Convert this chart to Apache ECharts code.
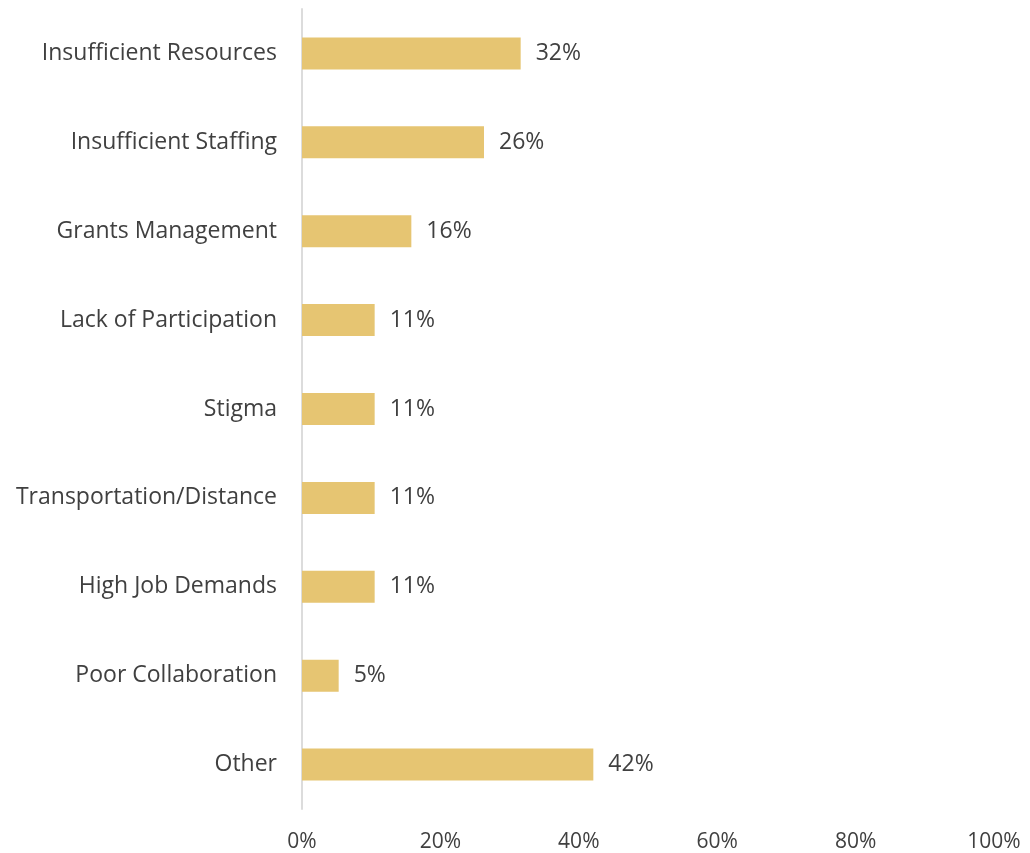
<!DOCTYPE html>
<html>
<head>
<meta charset="utf-8">
<script src="https://cdn.jsdelivr.net/npm/echarts@6/dist/echarts.min.js"></script>
<style>
html,body{margin:0;padding:0;background:#fff;}
#chart{width:1030px;height:853px;}
</style>
</head>
<body>
<div id="chart"></div>
<script>
const categories = ["Insufficient Resources","Insufficient Staffing","Grants Management","Lack of Participation","Stigma","Transportation/Distance","High Job Demands","Poor Collaboration","Other"];
const values = [31.6, 26.3, 15.8, 10.5, 10.5, 10.5, 10.5, 5.3, 42.1];
const xTicks = [0, 20, 40, 60, 80, 100];

const FONT = "'Open Sans', sans-serif";
const chart = echarts.init(document.getElementById('chart'), null, {renderer:'canvas'});
chart.setOption({
  animation:false,
  grid:{left:302, right:36, top:9, bottom:41, containLabel:false},
  xAxis:{
    type:'value', min:xTicks[0], max:xTicks[xTicks.length-1], interval:20,
    axisLine:{show:false}, axisTick:{show:false}, splitLine:{show:false},
    axisLabel:{formatter:v=>v+'%', color:'#404040', fontSize:21, fontFamily:FONT, margin:23}
  },
  yAxis:{
    type:'category', data:categories, inverse:true,
    axisLine:{show:true, lineStyle:{color:'#dcdcdc', width:2}},
    axisTick:{show:false},
    axisLabel:{color:'#404040', fontSize:23, fontFamily:FONT, margin:25}
  },
  series:[{
    type:'bar', data:values, barWidth:32,
    itemStyle:{color:'#E6C572'},
    label:{show:true, position:'right', distance:15, formatter:p=>Math.round(p.value)+'%', color:'#404040', fontSize:23, fontFamily:FONT}
  }]
});
</script>
</body>
</html>
